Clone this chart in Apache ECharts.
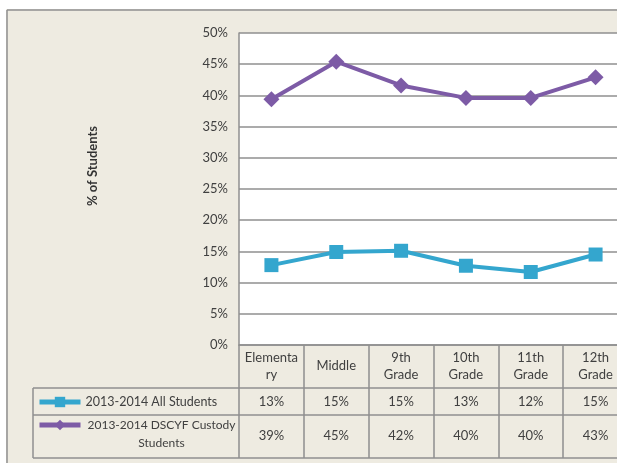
<!DOCTYPE html>
<html><head><meta charset="utf-8">
<script src="https://cdn.jsdelivr.net/npm/echarts@6/dist/echarts.min.js"></script>
<style>html,body{margin:0;padding:0;background:#fff}#c{width:617px;height:463px}</style>
</head><body><div id="c"></div>
<script>
const categories = ['Elementa\nry', 'Middle', '9th\nGrade', '10th\nGrade', '11th\nGrade', '12th\nGrade'];
const seriesNames = ['2013-2014 All Students', '2013-2014 DSCYF Custody Students'];
const allStudents = [12.8, 14.9, 15.1, 12.7, 11.7, 14.5];
const custodyStudents = [39.4, 45.4, 41.6, 39.6, 39.6, 42.9];
const allStudentsTable = ['13%', '15%', '15%', '13%', '12%', '15%'];
const custodyTable = ['39%', '45%', '42%', '40%', '40%', '43%'];
const yTicks = {min: 0, max: 50, interval: 5};

const FONT = 'Lato';
const TXT = '#404040';
const GRID = '#8f8f8f';
const chart = echarts.init(document.getElementById('c'), null, {renderer: 'canvas'});

const tableLine = (x1, y1, x2, y2) => ({type: 'line', z: 100, shape: {x1, y1, x2, y2}, style: {stroke: GRID, lineWidth: 1.5}});

chart.setOption({
  backgroundColor: '#EEEBE1',
  animation: false,
  textStyle: {fontFamily: FONT},
  grid: {left: 239, top: 33, right: -11, bottom: 118, show: true, backgroundColor: '#fff', borderWidth: 0,
         outerBoundsMode: 'none', containLabel: false},
  legend: [
    {data: [seriesNames[0]], left: 37, top: 393, padding: 0, itemWidth: 41, itemHeight: 13,
     lineStyle: {width: 5},
     textStyle: {fontFamily: FONT, fontSize: 12.5, color: TXT, lineHeight: 18}},
    {data: [seriesNames[1]], left: 37, top: 401, padding: 0, itemWidth: 41, itemHeight: 13,
     lineStyle: {width: 5},
     formatter: () => '{a| }\n{a|2013-2014 DSCYF Custody}\n{a|Students}',
     textStyle: {fontFamily: FONT, fontSize: 12.5, color: TXT,
       rich: {a: {fontFamily: FONT, fontSize: 12, color: TXT, lineHeight: 18, width: 152, align: 'center'}}}}
  ],
  xAxis: [
    {type: 'category', data: categories, position: 'bottom', boundaryGap: true,
     axisLine: {lineStyle: {color: GRID, width: 1.5}},
     axisTick: {show: true, length: 113, interval: 0, lineStyle: {color: GRID, width: 1.5}},
     axisLabel: {interval: 0, margin: 21, verticalAlign: 'middle', fontSize: 13, lineHeight: 17, color: TXT, fontFamily: FONT}},
    {type: 'category', data: allStudentsTable, position: 'bottom', offset: 0,
     axisLine: {show: false}, axisTick: {show: false},
     axisLabel: {interval: 0, margin: 57, verticalAlign: 'middle', fontSize: 13, color: TXT, fontFamily: FONT}},
    {type: 'category', data: custodyTable, position: 'bottom', offset: 0,
     axisLine: {show: false}, axisTick: {show: false},
     axisLabel: {interval: 0, margin: 91, verticalAlign: 'middle', fontSize: 13, color: TXT, fontFamily: FONT}}
  ],
  yAxis: {type: 'value', min: yTicks.min, max: yTicks.max, interval: yTicks.interval,
    name: '% of Students', nameLocation: 'middle', nameRotate: 90, nameGap: 140,
    nameTextStyle: {fontFamily: FONT, fontSize: 13, fontWeight: 'bold', color: '#333', padding: [0, 0, 0, 46]},
    axisLine: {show: true, lineStyle: {color: GRID, width: 1.5}},
    axisTick: {show: false},
    axisLabel: {formatter: '{value}%', margin: 11, fontSize: 13, color: TXT, fontFamily: FONT},
    splitLine: {lineStyle: {color: GRID, width: 1.5}}},
  series: [
    {name: seriesNames[0], type: 'line', data: allStudents, xAxisIndex: 0,
     symbol: 'rect', symbolSize: 14, lineStyle: {width: 4, color: '#34A6CE'},
     itemStyle: {color: '#34A6CE'}},
    {name: seriesNames[1], type: 'line', data: custodyStudents, xAxisIndex: 0,
     symbol: 'diamond', symbolSize: 16, lineStyle: {width: 4, color: '#7D5BA6'},
     itemStyle: {color: '#7D5BA6'}}
  ],
  graphic: [
    {type: 'rect', z: 100, shape: {x: 0, y: 0, width: 617, height: 9}, style: {fill: '#fff'}},
    {type: 'rect', z: 100, shape: {x: 0, y: 0, width: 6, height: 463}, style: {fill: '#fff'}},
    tableLine(7, 10, 617, 10),
    tableLine(7, 10, 7, 463),
    tableLine(33, 388, 628, 388),
    tableLine(33, 415, 628, 415),
    tableLine(33, 458, 628, 458),
    tableLine(33, 388, 33, 458)
  ]
});
</script></body></html>
